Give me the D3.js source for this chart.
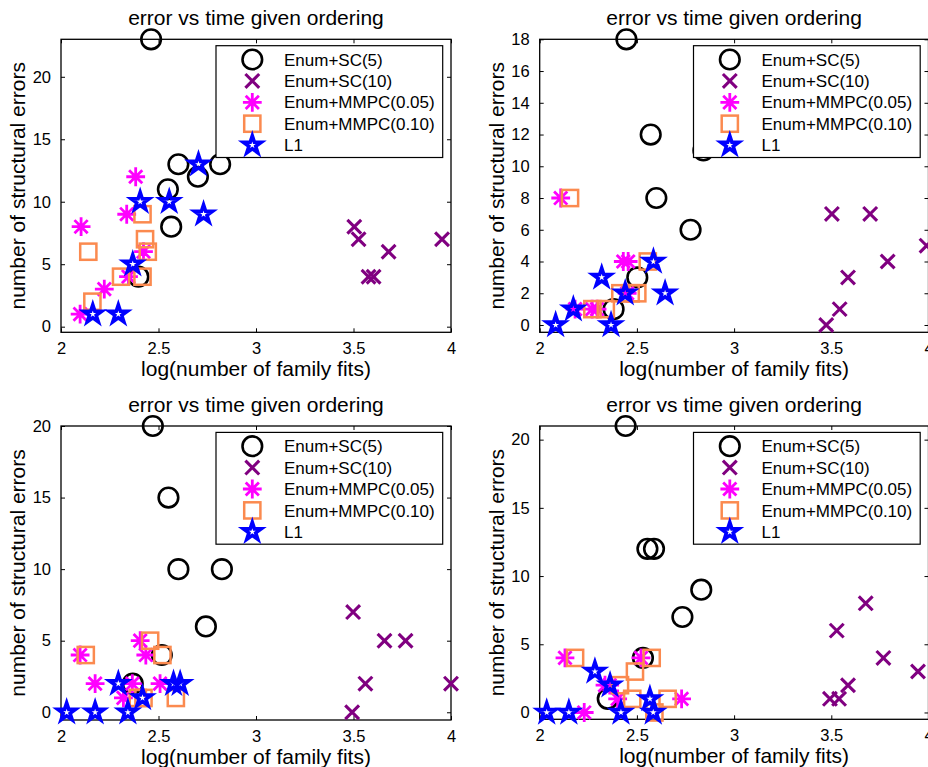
<!DOCTYPE html>
<html>
<head>
<meta charset="utf-8">
<script src="https://cdn.jsdelivr.net/npm/d3@7"></script>
<style>
  html, body { margin: 0; padding: 0; background: #fff; }
  svg { display: block; font-family: "Liberation Sans", Arial, Helvetica, sans-serif; }
</style>
</head>
<body>
<svg id="chart" width="928" height="767"></svg>
<script>
// Method names shown in every legend
const methods = ["Enum+SC(5)", "Enum+SC(10)", "Enum+MMPC(0.05)", "Enum+MMPC(0.10)", "L1"];
const titleText = "error vs time given ordering";
const xLabelText = "log(number of family fits)";
const yLabelText = "number of structural errors";

const xTicks = [2, 2.5, 3, 3.5, 4];
const xDomain = [2, 4];
// y ticks and limits for the four panels (top-left, top-right, bottom-left, bottom-right)
const yTicksPanels = [
  [0, 5, 10, 15, 20],
  [0, 2, 4, 6, 8, 10, 12, 14, 16, 18],
  [0, 5, 10, 15, 20],
  [0, 5, 10, 15, 20]
];
const yDomainPanels = [[-0.45, 23], [-0.46, 18], [-0.54, 20], [-0.5, 21]];

// Enum+SC(5)
const sc5X = [
  [2.462, 2.602, 2.816, 2.702, 2.548, 2.565, 2.397],
  [2.446, 2.571, 2.842, 2.600, 2.776, 2.502, 2.380],
  [2.471, 2.551, 2.602, 2.825, 2.743, 2.517, 2.368],
  [2.442, 2.554, 2.588, 2.831, 2.734, 2.531, 2.350]
];
const sc5Y = [
  [23, 13, 13, 12, 11, 8, 4],
  [18, 12, 11, 8, 6, 3, 1],
  [20, 15, 10, 10, 6, 4, 2],
  [21, 12, 12, 9, 7, 4, 1]
];
// Enum+SC(10)
const sc10X = [
  [3.504, 3.526, 3.577, 3.603, 3.680, 3.954],
  [3.503, 3.700, 3.990, 3.790, 3.586, 3.543, 3.474],
  [3.498, 3.659, 3.767, 3.561, 4.000, 3.493],
  [3.528, 3.677, 3.768, 3.946, 3.586, 3.493, 3.540]
];
const sc10Y = [
  [8, 7, 4, 4, 6, 7],
  [7, 7, 5, 4, 3, 1, 0],
  [7, 5, 5, 2, 2, 0],
  [6, 8, 4, 3, 2, 1, 1]
];
// Enum+MMPC(0.05)
const mmpc05X = [
  [2.383, 2.337, 2.103, 2.423, 2.346, 2.222, 2.098],
  [2.108, 2.430, 2.455, 2.182, 2.270, 2.295, 2.450],
  [2.098, 2.406, 2.435, 2.175, 2.366, 2.508, 2.320],
  [2.130, 2.521, 2.336, 2.360, 2.401, 2.730, 2.229]
];
const mmpc05Y = [
  [12, 9, 8, 6, 4, 3, 1],
  [8, 4, 4, 1, 1, 1, 2],
  [4, 5, 4, 2, 2, 2, 1],
  [4, 4, 2, 2, 1, 1, 0]
];
// Enum+MMPC(0.10)
const mmpc10X = [
  [2.418, 2.431, 2.445, 2.140, 2.308, 2.418, 2.161],
  [2.156, 2.556, 2.415, 2.468, 2.502, 2.271, 2.340],
  [2.127, 2.457, 2.520, 2.394, 2.423, 2.589],
  [2.182, 2.576, 2.490, 2.413, 2.476, 2.658, 2.590]
];
const mmpc10Y = [
  [9, 7, 6, 6, 4, 4, 2],
  [8, 4, 2, 2, 2, 1, 1],
  [4, 5, 4, 1, 1, 1],
  [4, 4, 3, 2, 1, 1, 0]
];
// L1
const l1X = [
  [2.705, 2.406, 2.555, 2.731, 2.368, 2.163, 2.294],
  [2.585, 2.319, 2.645, 2.440, 2.173, 2.082, 2.367],
  [2.029, 2.175, 2.343, 2.294, 2.418, 2.577, 2.611],
  [2.036, 2.150, 2.284, 2.362, 2.418, 2.567, 2.584]
];
const l1Y = [
  [13, 10, 10, 9, 5, 1, 1],
  [4, 3, 2, 2, 1, 0, 0],
  [0, 0, 0, 2, 1, 2, 2],
  [0, 0, 3, 2, 0, 1, 0]
];

const seriesX = [sc5X, sc10X, mmpc05X, mmpc10X, l1X];
const seriesY = [sc5Y, sc10Y, mmpc05Y, mmpc10Y, l1Y];

// ---- drawing ----
const colors = ["#000000", "#800080", "#ff00ff", "#fb8a4f", "#0000ff"];
const shapes = ["circle", "x", "asterisk", "square", "star"];

const panels = [
  { left: 61,    right: 451,   top: 39.3, bottom: 332.3 },
  { left: 539.7, right: 928.5, top: 39.3, bottom: 332.3 },
  { left: 61,    right: 451,   top: 426,  bottom: 720 },
  { left: 539.7, right: 928.5, top: 426,  bottom: 719.3 }
];

function starPath(R) {
  const r = R * 0.382;
  const pts = [];
  for (let i = 0; i < 10; i++) {
    const rad = i % 2 === 0 ? R : r;
    const a = -Math.PI / 2 + i * Math.PI / 5;
    pts.push([rad * Math.cos(a), rad * Math.sin(a)]);
  }
  return "M" + pts.map(p => p[0].toFixed(2) + "," + p[1].toFixed(2)).join("L") + "Z";
}

function drawMarker(g, shape, color, cx, cy) {
  const m = g.append("g").attr("transform", `translate(${cx},${cy})`)
    .attr("fill", "none").attr("stroke", color);
  if (shape === "circle") {
    m.append("circle").attr("r", 9.8).attr("stroke-width", 2.6);
  } else if (shape === "x") {
    const a = 6.9;
    m.append("path").attr("d", `M${-a},${-a}L${a},${a}M${-a},${a}L${a},${-a}`)
      .attr("stroke-width", 3.1);
  } else if (shape === "asterisk") {
    const a = 9.4, d = 6.6;
    m.append("path")
      .attr("d", `M0,${-a}L0,${a}M${-a},0L${a},0M${-d},${-d}L${d},${d}M${-d},${d}L${d},${-d}`)
      .attr("stroke-width", 2.8);
  } else if (shape === "square") {
    const s = 8.1;
    m.append("rect").attr("x", -s).attr("y", -s).attr("width", 2 * s).attr("height", 2 * s)
      .attr("stroke-width", 2.5);
  } else if (shape === "star") {
    m.append("path").attr("d", starPath(9.4)).attr("stroke-width", 3.6)
      .attr("stroke-linejoin", "miter").attr("stroke-miterlimit", 4);
  }
}

const svg = d3.select("#chart");

panels.forEach((p, pi) => {
  const x = d3.scaleLinear().domain(xDomain).range([p.left, p.right]);
  const y = d3.scaleLinear().domain(yDomainPanels[pi]).range([p.bottom, p.top]);
  const g = svg.append("g");
  const tickLen = 4;
  const yTicks = yTicksPanels[pi];

  // Axes with inward ticks on all four sides (boxed axes)
  const axB = d3.axisBottom(x).tickValues(xTicks).tickSize(-tickLen).tickPadding(10)
    .tickFormat(d3.format("~g"));
  const axT = d3.axisTop(x).tickValues(xTicks).tickSize(-tickLen).tickFormat("");
  const axL = d3.axisLeft(y).tickValues(yTicks).tickSize(-tickLen).tickPadding(10)
    .tickFormat(d3.format("~g"));
  const axR = d3.axisRight(y).tickValues(yTicks).tickSize(-tickLen).tickFormat("");

  const styleAxis = sel => {
    sel.select(".domain").remove();
    sel.selectAll(".tick line").attr("stroke", "#000").attr("stroke-width", 1);
    sel.selectAll(".tick text").attr("fill", "#000").attr("font-size", 16.5)
      .attr("font-family", "Liberation Sans, Arial, sans-serif");
  };
  g.append("g").attr("transform", `translate(0,${p.bottom})`).call(axB).call(styleAxis);
  g.append("g").attr("transform", `translate(0,${p.top})`).call(axT).call(styleAxis);
  g.append("g").attr("transform", `translate(${p.left},0)`).call(axL).call(styleAxis);
  g.append("g").attr("transform", `translate(${p.right},0)`).call(axR).call(styleAxis);

  // Axes box
  g.append("rect").attr("x", p.left).attr("y", p.top)
    .attr("width", p.right - p.left).attr("height", p.bottom - p.top)
    .attr("fill", "none").attr("stroke", "#000").attr("stroke-width", 1.3);

  // Data markers
  shapes.forEach((shape, si) => {
    const xs = seriesX[si][pi], ys = seriesY[si][pi];
    xs.forEach((xv, i) => drawMarker(g, shape, colors[si], x(xv), y(ys[i])));
  });

  // Title and axis labels
  const cx = (p.left + p.right) / 2;
  const cy = (p.top + p.bottom) / 2;
  g.append("text").attr("x", cx).attr("y", p.top - 14).attr("text-anchor", "middle")
    .attr("font-size", 21).text(titleText);
  g.append("text").attr("x", cx).attr("y", p.bottom + 44).attr("text-anchor", "middle")
    .attr("font-size", 21).text(xLabelText);
  g.append("text").attr("transform", `translate(${p.left - 36},${cy}) rotate(-90)`)
    .attr("text-anchor", "middle").attr("font-size", 21).text(yLabelText);

  // Legend
  const lw = 226.7, lh = 111.8;
  const lx = p.right - 8.3 - lw, ly = p.top + 6.4;
  const lg = g.append("g").attr("transform", `translate(${lx},${ly})`);
  lg.append("rect").attr("width", lw).attr("height", lh)
    .attr("fill", "#fff").attr("stroke", "#000").attr("stroke-width", 1.2);
  methods.forEach((name, si) => {
    const yy = 13.8 + si * 21.4;
    drawMarker(lg, shapes[si], colors[si], 36.3, yy);
    lg.append("text").attr("x", 68).attr("y", yy).attr("dy", "0.36em")
      .attr("font-size", 17).text(name);
  });
});
</script>
</body>
</html>
